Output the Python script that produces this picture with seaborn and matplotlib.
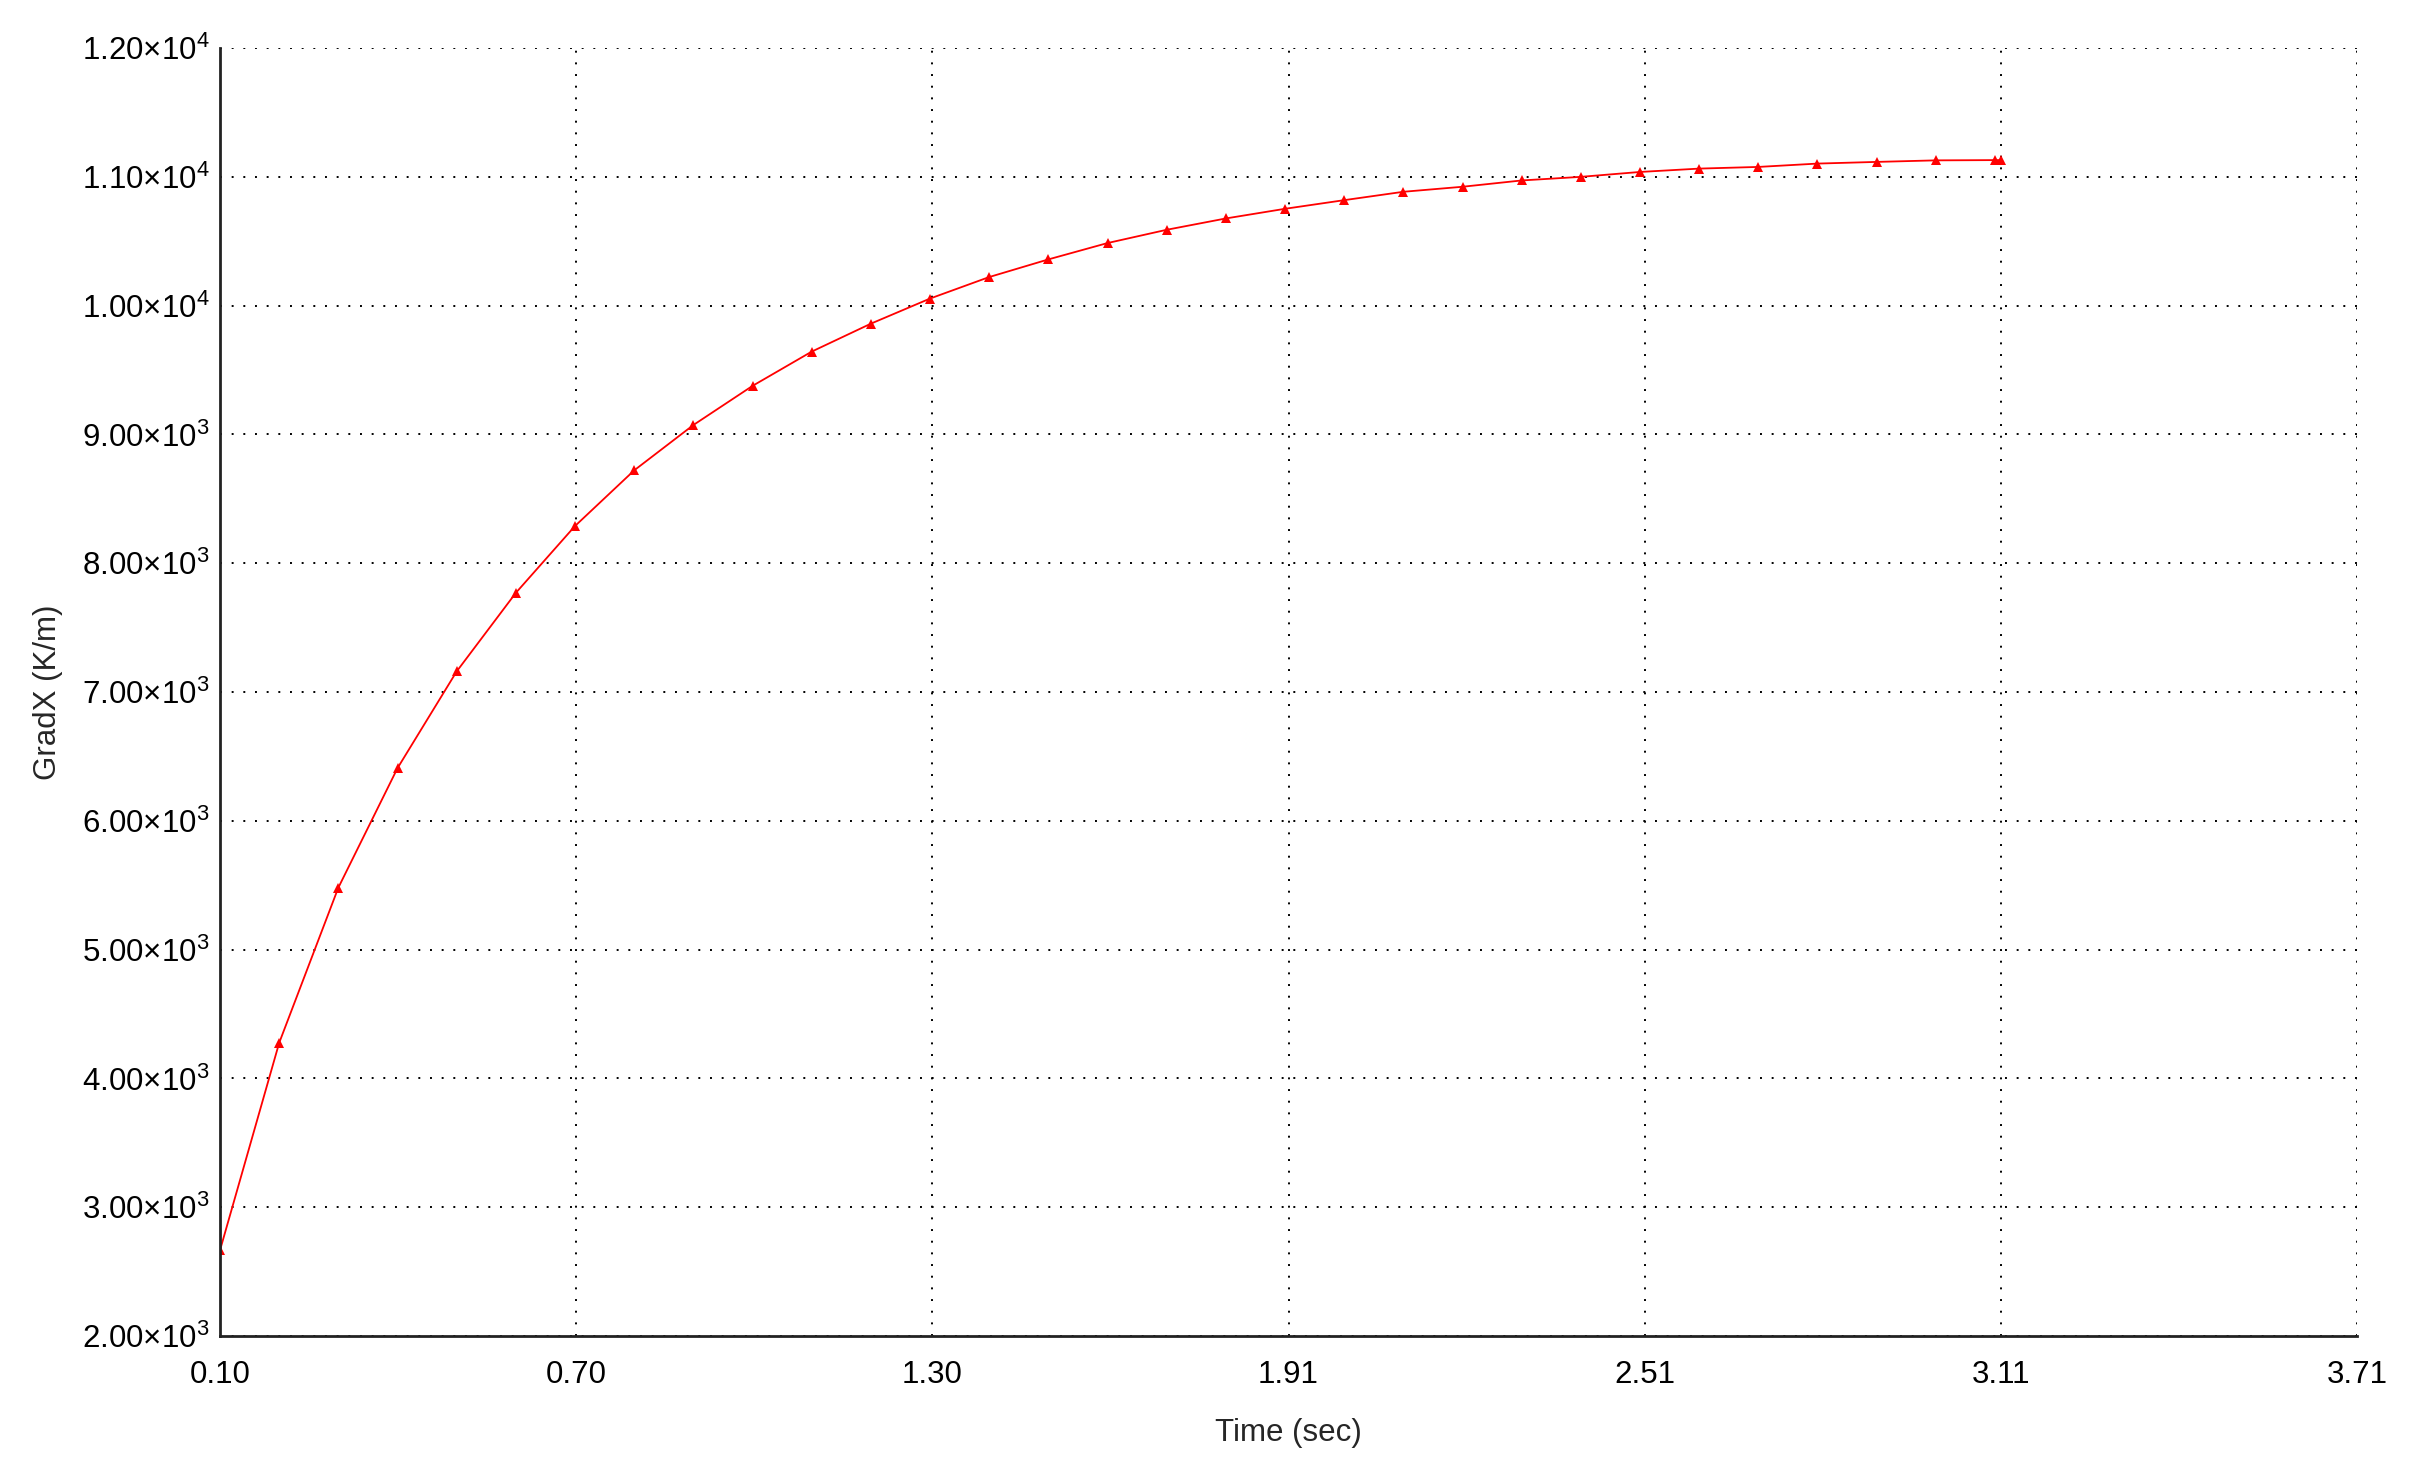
import numpy as np
import matplotlib
matplotlib.use("Agg")
import matplotlib.pyplot as plt
import seaborn as sns
from matplotlib.ticker import FixedLocator, FuncFormatter, MultipleLocator

# data
time_sec = [0.10, 0.20, 0.30, 0.40, 0.50, 0.60, 0.70, 0.80, 0.90, 1.00,
            1.10, 1.20, 1.30, 1.40, 1.50, 1.60, 1.70, 1.80, 1.90, 2.00,
            2.10, 2.20, 2.30, 2.40, 2.50, 2.60, 2.70, 2.80, 2.90, 3.00,
            3.10, 3.11]
gradx = [2666, 4276, 5481, 6409, 7160, 7770, 8289, 8721, 9073, 9377,
         9643, 9860, 10055, 10222, 10359, 10486, 10589, 10677, 10752, 10819,
         10884, 10923, 10972, 11000, 11038, 11064, 11077, 11103, 11116, 11128,
         11130, 11130]

x_tick_labels = ["0.10", "0.70", "1.30", "1.91", "2.51", "3.11", "3.71"]
y_ticks = [2000, 3000, 4000, 5000, 6000, 7000, 8000, 9000, 10000, 11000, 12000]

sns.set_style("white")
plt.rcParams["font.family"] = ["Liberation Sans", "DejaVu Sans"]
plt.rcParams["mathtext.fontset"] = "custom"
plt.rcParams["mathtext.rm"] = "Liberation Sans"
plt.rcParams["mathtext.it"] = "Liberation Sans"

fig = plt.figure(figsize=(24.31, 14.83), dpi=100)
ax = fig.add_axes([0.0905, 0.0991, 0.8791, 0.8685])

sns.lineplot(x=time_sec, y=gradx, ax=ax, color="red", linewidth=1.3,
             marker="^", markersize=7, markeredgewidth=0, sort=False)

x_lo, x_hi = 0.10, 3.712
ax.set_xlim(x_lo, x_hi)
ax.set_ylim(2000, 12000)

x_pos = np.linspace(x_lo, x_hi, len(x_tick_labels))
ax.xaxis.set_major_locator(FixedLocator(x_pos))
ax.set_xticklabels(x_tick_labels)
ax.xaxis.set_minor_locator(FixedLocator((x_pos[:-1] + x_pos[1:]) / 2))

ax.yaxis.set_major_locator(FixedLocator(y_ticks))
ax.yaxis.set_minor_locator(MultipleLocator(500))


def sci_fmt(v, pos):
    e = int(np.floor(np.log10(v)))
    return f"{v / 10**e:.2f}×$10^{{{e}}}$"


ax.yaxis.set_major_formatter(FuncFormatter(sci_fmt))

ax.grid(True, which="major", color="black", linestyle=(0, (1, 5)), linewidth=1.4)
for side in ["top", "right"]:
    ax.spines[side].set_visible(False)
for side in ["left", "bottom"]:
    ax.spines[side].set_color("#222222")
    ax.spines[side].set_linewidth(2)

ax.tick_params(axis="both", which="both", direction="inout", color="#222222",
               width=1.5, labelsize=22.5, labelcolor="black")
ax.tick_params(axis="both", which="major", length=9)
ax.tick_params(axis="both", which="minor", length=8)
ax.tick_params(axis="x", which="major", pad=13)
ax.tick_params(axis="y", which="major", pad=3)

ax.set_xlabel("Time (sec)", fontsize=22.5, labelpad=20)
ax.set_ylabel("GradX (K/m)", fontsize=22.5, labelpad=14)

fig.savefig("out.png", dpi=100, facecolor="white")
